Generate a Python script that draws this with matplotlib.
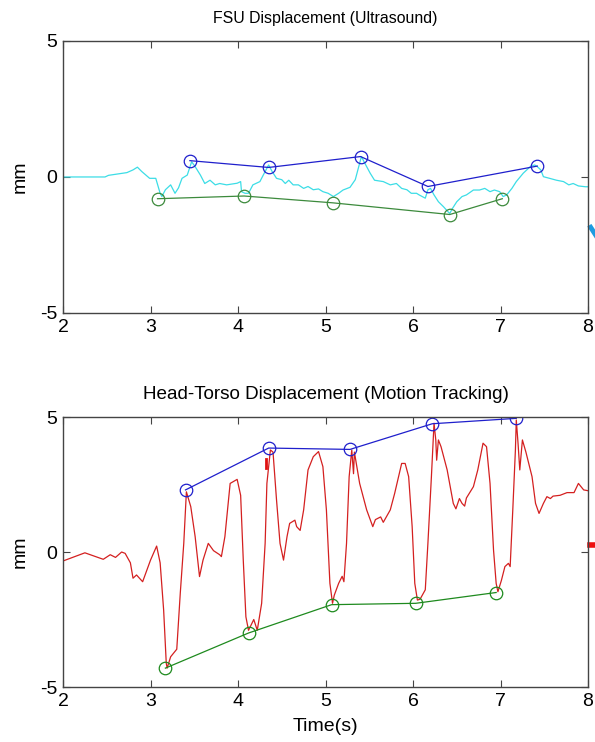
import matplotlib
matplotlib.use('Agg')
import matplotlib.pyplot as plt
import numpy as np

plt.rcParams['font.family'] = ['Liberation Sans', 'DejaVu Sans']
plt.rcParams['axes.unicode_minus'] = False

# FSU displacement trace (ultrasound), time in s / displacement in mm
fsu_t = [2.00, 2.48, 2.52, 2.73, 2.80, 2.85, 2.90, 2.99, 3.06, 3.11, 3.13, 3.17,
         3.23, 3.28, 3.32, 3.36, 3.42, 3.47, 3.51, 3.57, 3.62, 3.68, 3.74, 3.79,
         3.87, 3.99, 4.03, 4.04, 4.08, 4.12, 4.17, 4.25, 4.30, 4.35, 4.39, 4.44,
         4.50, 4.54, 4.58, 4.63, 4.69, 4.75, 4.80, 4.86, 4.92, 4.97, 5.03, 5.09,
         5.15, 5.20, 5.28, 5.34, 5.41, 5.45, 5.51, 5.56, 5.66, 5.74, 5.81, 5.87,
         5.93, 5.98, 6.04, 6.07, 6.14, 6.17, 6.20, 6.24, 6.29, 6.35, 6.40, 6.42,
         6.45, 6.50, 6.56, 6.61, 6.69, 6.76, 6.82, 6.88, 6.93, 6.99, 7.03, 7.07,
         7.13, 7.18, 7.26, 7.34, 7.39, 7.42, 7.46, 7.49, 7.56, 7.64, 7.72, 7.78,
         7.83, 7.89, 7.97, 8.00]
fsu_mm = [0.00, 0.00, 0.06, 0.16, 0.26, 0.36, 0.20, -0.05, -0.05, -0.60, -0.72, -0.47,
          -0.29, -0.60, -0.40, -0.05, 0.07, 0.56, 0.38, 0.07, -0.24, -0.12, -0.29, -0.24,
          -0.29, -0.23, -0.17, -0.54, -0.60, -0.60, -0.29, -0.17, 0.14, 0.44, 0.20, -0.05,
          -0.10, -0.24, -0.12, -0.29, -0.29, -0.42, -0.35, -0.47, -0.44, -0.54, -0.60, -0.72,
          -0.60, -0.48, -0.38, -0.10, 0.75, 0.50, 0.14, -0.12, -0.17, -0.29, -0.24, -0.42,
          -0.47, -0.60, -0.60, -0.66, -0.78, -0.47, -0.42, -0.66, -0.91, -1.10, -1.28, -1.34,
          -1.16, -0.91, -0.72, -0.66, -0.48, -0.48, -0.42, -0.54, -0.48, -0.54, -0.72, -0.66,
          -0.42, -0.17, 0.14, 0.38, 0.44, 0.38, 0.26, 0.01, -0.05, -0.12, -0.17, -0.29,
          -0.24, -0.33, -0.36, -0.36]
fsu_peak_t = [3.45, 4.35, 5.40, 6.17, 7.42]
fsu_peak_mm = [0.60, 0.35, 0.75, -0.35, 0.40]
fsu_valley_t = [3.08, 4.07, 5.08, 6.42, 7.02]
fsu_valley_mm = [-0.80, -0.70, -0.95, -1.38, -0.80]

# head-torso displacement trace (motion tracking)
ht_t = [2.01, 2.25, 2.46, 2.54, 2.60, 2.67, 2.71, 2.77, 2.80, 2.84, 2.91, 3.00,
        3.07, 3.11, 3.15, 3.18, 3.19, 3.23, 3.30, 3.34, 3.38, 3.41, 3.46, 3.51,
        3.56, 3.60, 3.66, 3.72, 3.79, 3.81, 3.85, 3.91, 3.99, 4.03, 4.06, 4.09,
        4.12, 4.15, 4.18, 4.22, 4.27, 4.31, 4.33, 4.37, 4.40, 4.44, 4.48, 4.52,
        4.56, 4.59, 4.65, 4.67, 4.71, 4.75, 4.80, 4.86, 4.92, 4.97, 5.01, 5.05,
        5.08, 5.10, 5.15, 5.19, 5.21, 5.24, 5.27, 5.30, 5.32, 5.33, 5.39, 5.47,
        5.54, 5.57, 5.63, 5.66, 5.74, 5.79, 5.87, 5.91, 5.95, 5.99, 6.02, 6.05,
        6.08, 6.14, 6.17, 6.21, 6.24, 6.26, 6.27, 6.29, 6.32, 6.39, 6.46, 6.49,
        6.53, 6.56, 6.59, 6.61, 6.69, 6.74, 6.80, 6.84, 6.88, 6.92, 6.95, 6.97,
        7.01, 7.05, 7.09, 7.11, 7.14, 7.17, 7.18, 7.20, 7.22, 7.25, 7.29, 7.36,
        7.40, 7.44, 7.49, 7.53, 7.57, 7.60, 7.68, 7.76, 7.84, 7.89, 7.95, 8.00]
ht_mm = [-0.32, -0.03, -0.27, -0.10, -0.20, 0.00, -0.05, -0.40, -0.97, -0.85, -1.10, -0.30,
         0.22, -0.40, -2.15, -4.12, -4.30, -3.88, -3.60, -1.53, 0.32, 2.23, 1.68, 0.57,
         -0.91, -0.30, 0.32, 0.05, -0.10, -0.17, 0.57, 2.54, 2.69, 2.10, -0.30, -2.40,
         -2.90, -2.70, -2.50, -2.90, -1.90, 0.33, 2.54, 3.78, 3.70, 1.93, 0.32, -0.30,
         0.57, 1.06, 1.18, 0.94, 0.80, 1.56, 3.04, 3.53, 3.72, 3.16, 1.56, -1.16,
         -1.90, -1.60, -1.16, -0.90, -1.10, 0.32, 2.79, 3.78, 2.90, 3.70, 2.54, 1.56,
         0.94, 1.20, 1.30, 1.10, 1.56, 2.17, 3.28, 3.28, 2.79, 0.94, -1.16, -1.78,
         -1.75, -1.40, 0.32, 2.79, 4.77, 4.15, 3.40, 4.15, 3.90, 3.04, 1.80, 1.60,
         1.98, 1.80, 1.70, 2.00, 2.42, 3.04, 4.03, 3.90, 2.54, 0.07, -1.16, -1.47,
         -1.05, -0.54, -0.42, -0.54, 1.56, 3.78, 4.89, 4.03, 3.04, 4.15, 3.70, 2.79,
         1.80, 1.43, 1.80, 2.05, 1.98, 2.07, 2.10, 2.20, 2.20, 2.54, 2.30, 2.27]
ht_peak_t = [3.40, 4.35, 5.28, 6.22, 7.18]
ht_peak_mm = [2.30, 3.85, 3.80, 4.75, 4.95]
ht_valley_t = [3.17, 4.12, 5.07, 6.03, 6.95]
ht_valley_mm = [-4.30, -3.00, -1.95, -1.90, -1.50]

# short stray segments past the right edge of each panel
fsu_stray_t = [8.03, 8.12]
fsu_stray_mm = [-1.85, -2.30]
ht_stray_t = [8.02, 8.12]
ht_stray_mm = [0.25, 0.25]

fig = plt.figure(figsize=(5.95, 7.42), dpi=100)
ax1 = fig.add_axes([0.1059, 0.5782, 0.8824, 0.3666])
ax2 = fig.add_axes([0.1059, 0.0741, 0.8824, 0.3639])

mk = dict(marker='o', markersize=9, markerfacecolor='none', markeredgewidth=0.9, linewidth=0.9)

ax1.plot(fsu_t, fsu_mm, color='#3cdde6', linewidth=0.9)
ax1.plot(fsu_peak_t, fsu_peak_mm, color='#1f1fcc', markeredgecolor='#1f1fcc', **mk)
ax1.plot(fsu_valley_t, fsu_valley_mm, color='#3c8a3c', markeredgecolor='#3c8a3c', **mk)
ax1.plot(fsu_stray_t, fsu_stray_mm, color='#1e9be0', linewidth=3.5, clip_on=False)
ax1.set_title('FSU Displacement (Ultrasound)', fontsize=11.4, pad=13)

ax2.plot(ht_t, ht_mm, color='#d42020', linewidth=0.9)
ax2.plot([4.32, 4.32], [3.1, 3.45], color='#e01010', linewidth=2)
ax2.plot(ht_peak_t, ht_peak_mm, color='#1f1fcc', markeredgecolor='#1f1fcc', **mk)
ax2.plot(ht_valley_t, ht_valley_mm, color='#1e8a1e', markeredgecolor='#1e8a1e', **mk)
ax2.plot(ht_stray_t, ht_stray_mm, color='#ee1010', linewidth=4, clip_on=False)
ax2.set_title('Head-Torso Displacement (Motion Tracking)', fontsize=13.6, pad=13)
ax2.set_xlabel('Time(s)', fontsize=14, labelpad=6)

for ax in (ax1, ax2):
    ax.set_xlim(2, 8)
    ax.set_ylim(-5, 5)
    ax.set_xticks(np.arange(2, 9, 1))
    ax.set_yticks([-5, 0, 5])
    ax.tick_params(direction='in', length=5, width=0.8, top=True, right=True,
                   labelsize=14, color='#444444', pad=4)
    ax.set_ylabel('mm', fontsize=14, labelpad=8)
    for s in ax.spines.values():
        s.set_color('#444444')
        s.set_linewidth(1.0)

fig.savefig('out.png', dpi=100, facecolor='white')
